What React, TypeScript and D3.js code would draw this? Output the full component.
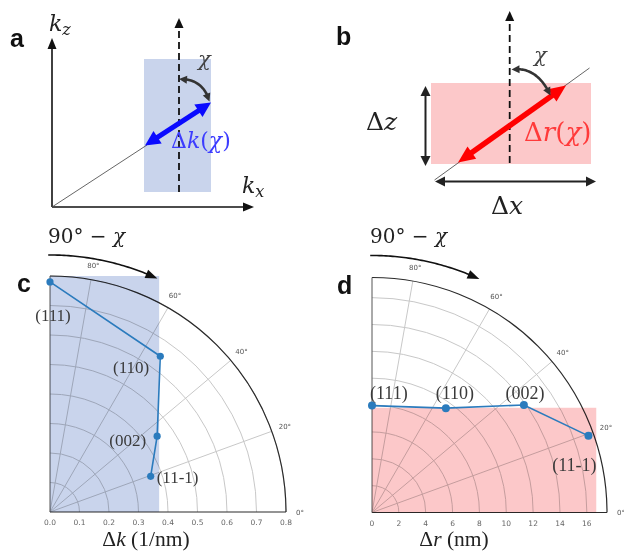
import React from "react";
import * as d3 from "d3";

// Reflections and their tilt 90° − χ from the substrate plane
const planes = ["(111)", "(110)", "(002)", "(11-1)"];
const tiltDeg = [90, 54.7, 35.3, 19.5];
// Peak width in reciprocal space (1/nm) and the resulting real-space size (nm)
const deltaK = [0.78, 0.647, 0.445, 0.362];
const deltaR = [7.96, 9.52, 13.86, 17.1];

const kTicks = [0, 0.1, 0.2, 0.3, 0.4, 0.5, 0.6, 0.7, 0.8];
const rTicks = [0, 2, 4, 6, 8, 10, 12, 14, 16];
const angleTicks = [0, 20, 40, 60, 80];

// Shaded windows: [horizontal extent, vertical extent]
const kWindow = [0.37, 0.8];
const rWindow = [16.7, 7.8];

const SERIF = "'Liberation Serif', 'Times New Roman', serif";
const MATH = "'DejaVu Serif', serif";
const SANS = "'Liberation Sans', Arial, sans-serif";
const TICK = "'DejaVu Sans', sans-serif";

const BLUE_FILL = "#c9d4ec";
const PINK_FILL = "#fcc8c9";
const LINE_BLUE = "#2b7bbd";

type Pt = [number, number];

function headPoints(tip: Pt, from: Pt, len: number, w: number): string {
  const dx = tip[0] - from[0];
  const dy = tip[1] - from[1];
  const L = Math.hypot(dx, dy) || 1;
  const ux = dx / L;
  const uy = dy / L;
  const bx = tip[0] - ux * len;
  const by = tip[1] - uy * len;
  const px = (-uy * w) / 2;
  const py = (ux * w) / 2;
  return `${tip[0]},${tip[1]} ${bx + px},${by + py} ${bx - px},${by - py}`;
}

// Straight arrow with optional heads at either end
function Arrow(props: {
  a: Pt; b: Pt; color: string; width: number; len: number; hw: number;
  start?: boolean; end?: boolean; dash?: string;
}) {
  const { a, b, color, width, len, hw, start = true, end = true, dash } = props;
  const dx = b[0] - a[0];
  const dy = b[1] - a[1];
  const L = Math.hypot(dx, dy);
  const ux = dx / L;
  const uy = dy / L;
  const s: Pt = start ? [a[0] + ux * len * 0.8, a[1] + uy * len * 0.8] : a;
  const e: Pt = end ? [b[0] - ux * len * 0.8, b[1] - uy * len * 0.8] : b;
  return (
    <g>
      <line x1={s[0]} y1={s[1]} x2={e[0]} y2={e[1]} stroke={color} strokeWidth={width} strokeDasharray={dash} />
      {start && <polygon points={headPoints(a, b, len, hw)} fill={color} />}
      {end && <polygon points={headPoints(b, a, len, hw)} fill={color} />}
    </g>
  );
}

// Curved arrow along a sampled path; heads follow the local tangent
function CurveArrow(props: {
  pts: Pt[]; color: string; width: number; len: number; hw: number;
  start?: boolean; end?: boolean;
}) {
  const { pts, color, width, len, hw, start = true, end = true } = props;
  const first = pts[0];
  const last = pts[pts.length - 1];
  const trimmed = pts.filter(
    (p) =>
      (!start || Math.hypot(p[0] - first[0], p[1] - first[1]) > len * 0.75) &&
      (!end || Math.hypot(p[0] - last[0], p[1] - last[1]) > len * 0.75)
  );
  const near = (tip: Pt) => {
    for (const p of tip === first ? pts : [...pts].reverse()) {
      if (Math.hypot(p[0] - tip[0], p[1] - tip[1]) >= len) return p;
    }
    return tip === first ? pts[pts.length - 1] : pts[0];
  };
  const line = d3.line<Pt>().curve(d3.curveLinear);
  return (
    <g>
      <path d={line(trimmed) || ""} fill="none" stroke={color} strokeWidth={width} />
      {start && <polygon points={headPoints(first, near(first), len, hw)} fill={color} />}
      {end && <polygon points={headPoints(last, near(last), len, hw)} fill={color} />}
    </g>
  );
}

function quadPts(a: Pt, c: Pt, b: Pt, n = 40): Pt[] {
  return d3.range(n + 1).map((i) => {
    const t = i / n;
    const u = 1 - t;
    return [u * u * a[0] + 2 * u * t * c[0] + t * t * b[0], u * u * a[1] + 2 * u * t * c[1] + t * t * b[1]] as Pt;
  });
}

function arcPts(ox: number, oy: number, rad: number, fromDeg: number, toDeg: number, n = 50): Pt[] {
  return d3.range(n + 1).map((i) => {
    const a = ((fromDeg + ((toDeg - fromDeg) * i) / n) * Math.PI) / 180;
    return [ox + rad * Math.cos(a), oy - rad * Math.sin(a)] as Pt;
  });
}

type LabelPos = { dx: number; dy: number; anchor: "start" | "middle" | "end" };

function PolarPanel(props: {
  ox: number; oy: number; R: number; rMax: number; ticks: number[];
  fmt: (v: number) => string; values: number[]; win: number[]; fill: string;
  labelPos: LabelPos[]; labelSize: number; dotR: number; title: React.ReactNode; titleX: number;
}) {
  const { ox, oy, R, rMax, ticks, fmt, values, win, fill, labelPos, labelSize, dotR, title, titleX } = props;
  const r = d3.scaleLinear().domain([0, rMax]).range([0, R]);
  const rad = (deg: number) => (deg * Math.PI) / 180;
  const toXY = (deg: number, v: number): Pt => [ox + r(v) * Math.cos(rad(deg)), oy - r(v) * Math.sin(rad(deg))];
  const quarter = (rr: number) => {
    const p = d3.path();
    p.moveTo(ox + rr, oy);
    p.arc(ox, oy, rr, 0, -Math.PI / 2, true);
    return p.toString();
  };
  const pts = values.map((v, i) => toXY(tiltDeg[i], v));
  const line = d3.line<Pt>();
  return (
    <g>
      {/* grid */}
      {ticks.filter((t) => t > 0).map((t) => (
        <path key={"c" + t} d={quarter(r(t))} fill="none" stroke="#c8c8c8" strokeWidth={1} />
      ))}
      {angleTicks.filter((a) => a > 0).map((a) => {
        const [x, y] = toXY(a, rMax);
        return <line key={"a" + a} x1={ox} y1={oy} x2={x} y2={y} stroke="#c8c8c8" strokeWidth={1} />;
      })}
      {/* spines */}
      <path d={quarter(R)} fill="none" stroke="#2a2a2a" strokeWidth={1.2} />
      <line x1={ox} y1={oy} x2={ox + R} y2={oy} stroke="#2a2a2a" strokeWidth={1.1} />
      <line x1={ox} y1={oy} x2={ox} y2={oy - R} stroke="#555" strokeWidth={1} />
      {/* shaded window */}
      <rect
        x={ox}
        y={oy - r(win[1])}
        width={r(win[0])}
        height={r(win[1])}
        fill={fill}
        style={{ mixBlendMode: "multiply" }}
      />
      {/* tick labels */}
      {ticks.map((t) => (
        <text key={"t" + t} x={ox + r(t)} y={oy + 13} fontFamily={TICK} fontSize={7.5} fill="#666" textAnchor="middle">
          {fmt(t)}
        </text>
      ))}
      {angleTicks.map((a) => {
        const [x, y] = [ox + (R + 14) * Math.cos(rad(a)), oy - (R + 14) * Math.sin(rad(a))];
        return (
          <text key={"l" + a} x={x} y={y + 2.5} fontFamily={TICK} fontSize={7} fill="#555" textAnchor="middle">
            {a + "°"}
          </text>
        );
      })}
      {/* data */}
      <path d={line(pts) || ""} fill="none" stroke={LINE_BLUE} strokeWidth={1.6} />
      {pts.map((p, i) => (
        <circle key={"p" + i} cx={p[0]} cy={p[1]} r={dotR} fill={LINE_BLUE} />
      ))}
      {pts.map((p, i) => (
        <text
          key={"n" + i}
          x={p[0] + labelPos[i].dx}
          y={p[1] + labelPos[i].dy}
          textAnchor={labelPos[i].anchor}
          fontFamily={SERIF}
          fontSize={labelSize}
          fill="#3a3a3a"
        >
          {planes[i]}
        </text>
      ))}
      {/* 90° − χ rotation cue */}
      <text x={ox - 2} y={243} fontFamily={MATH} fontSize={20} fill="#222">
        90° − <tspan fontStyle="italic">χ</tspan>
      </text>
      <CurveArrow pts={arcPts(ox, oy, 257, 90.4, 65.3)} color="#111" width={1.6} len={12} hw={9} start={false} />
      {/* axis title */}
      <text x={titleX} y={546} fontFamily={SERIF} fontSize={21.5} fill="#222" textAnchor="middle">
        {title}
      </text>
    </g>
  );
}

export default function App() {
  return (
    <svg
      width={624}
      height={552}
      viewBox="0 0 624 552"
      style={{ position: "absolute", left: 0, top: 0, background: "#fff" }}
    >
      <rect width={624} height={552} fill="#fff" />

      {/* panel a: reciprocal space */}
      <text x={10} y={47} fontFamily={SANS} fontWeight="bold" fontSize={25} fill="#111">a</text>
      <rect x={144} y={59} width={67} height={133} fill={BLUE_FILL} />
      <Arrow a={[52, 207]} b={[52, 38]} color="#111" width={1.6} len={11} hw={9} start={false} />
      <Arrow a={[52, 207]} b={[254, 207]} color="#111" width={1.6} len={11} hw={9} start={false} />
      <text x={49} y={31} fontFamily={MATH} fontSize={22} fontStyle="italic" fill="#222">
        k<tspan fontSize={16} dy={4}>z</tspan>
      </text>
      <text x={242} y={193} fontFamily={MATH} fontSize={22} fontStyle="italic" fill="#222">
        k<tspan fontSize={16} dy={4}>x</tspan>
      </text>
      <line x1={52} y1={207} x2={147} y2={145} stroke="#555" strokeWidth={0.9} />
      <Arrow a={[179, 192]} b={[179, 18]} color="#111" width={1.8} len={10} hw={9} start={false} dash="7,4" />
      <Arrow a={[145, 145.5]} b={[211, 102.5]} color="#0a0aff" width={5} len={15} hw={15} />
      <CurveArrow pts={quadPts([179, 79], [203, 78.5], [209.5, 101.5])} color="#333" width={2.6} len={8} hw={8} />
      <text x={198} y={66} fontFamily={MATH} fontSize={21} fontStyle="italic" fill="#444">χ</text>
      <text x={171} y={148} fontFamily={MATH} fontSize={22} fill="#3c3cff">
        Δ<tspan fontStyle="italic">k</tspan>(<tspan fontStyle="italic">χ</tspan>)
      </text>

      {/* panel b: real space */}
      <text x={336} y={45} fontFamily={SANS} fontWeight="bold" fontSize={25} fill="#111">b</text>
      <rect x={431} y={83} width={160} height={81} fill={PINK_FILL} />
      <Arrow a={[509.7, 163]} b={[509.7, 11]} color="#111" width={1.8} len={10} hw={9} start={false} dash="7,4" />
      <line x1={434.5} y1={180} x2={589.5} y2={68} stroke="#555" strokeWidth={0.9} />
      <Arrow a={[458, 162.5]} b={[566, 85.5]} color="#ff0000" width={5.5} len={17} hw={15} />
      <CurveArrow pts={quadPts([511.5, 69.5], [537, 66], [550.5, 95.5])} color="#333" width={2.6} len={8} hw={8} />
      <text x={534} y={62} fontFamily={MATH} fontSize={21} fontStyle="italic" fill="#444">χ</text>
      <Arrow a={[425.5, 86]} b={[425.5, 166]} color="#222" width={2} len={10} hw={10} />
      <text x={366} y={130} fontFamily={MATH} fontSize={25} fill="#222">
        Δ<tspan fontStyle="italic">z</tspan>
      </text>
      <Arrow a={[435, 181.5]} b={[596, 181.5]} color="#222" width={2} len={10} hw={10} />
      <text x={491} y={214} fontFamily={MATH} fontSize={25} fill="#222">
        Δ<tspan fontStyle="italic">x</tspan>
      </text>
      <text x={524} y={141} fontFamily={MATH} fontSize={26} fill="#ff3a3a">
        Δ<tspan fontStyle="italic">r</tspan>(<tspan fontStyle="italic">χ</tspan>)
      </text>

      {/* panel c: Δk vs 90° − χ */}
      <text x={17} y={292} fontFamily={SANS} fontWeight="bold" fontSize={25} fill="#111">c</text>
      <PolarPanel
        ox={50}
        oy={512}
        R={236}
        rMax={0.8}
        ticks={kTicks}
        fmt={(v) => v.toFixed(1)}
        values={deltaK}
        win={kWindow}
        fill={BLUE_FILL}
        labelPos={[
          { dx: 3, dy: 39, anchor: "middle" },
          { dx: -11, dy: 17, anchor: "end" },
          { dx: -11, dy: 10, anchor: "end" },
          { dx: 6, dy: 7, anchor: "start" },
        ]}
        labelSize={17}
        dotR={3.6}
        title={<>Δ<tspan fontStyle="italic">k</tspan> (1/nm)</>}
        titleX={146}
      />

      {/* panel d: Δr vs 90° − χ */}
      <text x={337} y={294} fontFamily={SANS} fontWeight="bold" fontSize={25} fill="#111">d</text>
      <PolarPanel
        ox={372}
        oy={512.5}
        R={235}
        rMax={17.5}
        ticks={rTicks}
        fmt={(v) => String(v)}
        values={deltaR}
        win={rWindow}
        fill={PINK_FILL}
        labelPos={[
          { dx: -2, dy: -7, anchor: "start" },
          { dx: 9, dy: -9, anchor: "middle" },
          { dx: 1, dy: -6, anchor: "middle" },
          { dx: -14, dy: 35, anchor: "middle" },
        ]}
        labelSize={18}
        dotR={4}
        title={<>Δ<tspan fontStyle="italic">r</tspan> (nm)</>}
        titleX={454}
      />
    </svg>
  );
}
